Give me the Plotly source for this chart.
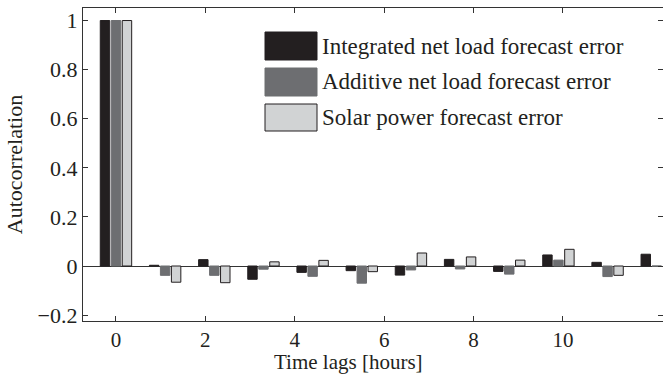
import plotly.graph_objects as go

# ---- data ----
lag_hours = [0.0, 1.1, 2.2, 3.3, 4.4, 5.5, 6.6, 7.7, 8.8, 9.9, 11.0, 12.1]
series_names = [
    "Integrated net load forecast error",
    "Additive net load forecast error",
    "Solar power forecast error",
]
integrated = [1.0, 0.003, 0.026, -0.054, -0.026, -0.019, -0.037, 0.027, -0.022, 0.045, 0.015, 0.048]
additive = [1.0, -0.038, -0.038, -0.013, -0.042, -0.070, -0.016, -0.012, -0.033, 0.024, -0.043, 0.0]
solar = [1.0, -0.066, -0.068, 0.017, 0.023, -0.023, 0.053, 0.037, 0.024, 0.068, -0.038, 0.0]
x_ticks = [0, 2, 4, 6, 8, 10]
y_ticks = [-0.2, 0, 0.2, 0.4, 0.6, 0.8, 1]
y_tick_text = ["\u22120.2", "0", "0.2", "0.4", "0.6", "0.8", "1"]
x_title = "Time lags [hours]"
y_title = "Autocorrelation"

fills = ["#231f20", "#6d6e71", "#d1d3d4"]
edges = ["#231f20", "#6d6e71", "#231f20"]
FONT = "Liberation Serif"
TXT = "#231f20"

fig = go.Figure()
for name, vals, fc, ec in zip(series_names, [integrated, additive, solar], fills, edges):
    fig.add_trace(go.Bar(
        x=lag_hours, y=vals, name=name,
        marker=dict(color=fc, line=dict(color=ec, width=1)),
        showlegend=False,
    ))

W, H = 663, 376
L, T, B, R = 83, 8, 55, 0
pw, ph = W - L - R, H - T - B

def px2paper(x, y):
    return (x - L) / pw, (H - B - y) / ph

# custom legend with large swatches
sw_x0, sw_x1 = 265, 317
rows = [(32, 60), (68, 96), (104, 131)]
for (y0, y1), fc, ec, name in zip(rows, fills, edges, series_names):
    ax0, ay1 = px2paper(sw_x0, y0)
    ax1, ay0 = px2paper(sw_x1, y1)
    fig.add_shape(type="rect", xref="paper", yref="paper",
                  x0=ax0, x1=ax1, y0=ay0, y1=ay1,
                  fillcolor=fc, line=dict(color=ec, width=1))
    tx, ty = px2paper(320, (y0 + y1) / 2)
    fig.add_annotation(xref="paper", yref="paper", x=tx, y=ty,
                       text=name, showarrow=False, xanchor="left", yanchor="middle",
                       font=dict(family=FONT, size=23, color=TXT))

# x-axis title placed as in the reference (not centred on the cropped axes)
tx, ty = px2paper(348, 362)
fig.add_annotation(xref="paper", yref="paper", x=tx, y=ty, text=x_title,
                   showarrow=False, xanchor="center", yanchor="middle",
                   font=dict(family=FONT, size=21, color=TXT))

fig.update_layout(
    width=W, height=H,
    margin=dict(l=L, r=R, t=T, b=B),
    paper_bgcolor="white", plot_bgcolor="white",
    barmode="group", bargap=0.33, bargroupgap=0.14,
    font=dict(family=FONT, size=21, color=TXT),
    showlegend=False,
)
fig.update_xaxes(
    range=[-0.738, 12.24], tickmode="array", tickvals=x_ticks,
    ticks="inside", ticklen=5, tickcolor="#333", mirror="ticks",
    showline=True, linecolor="#333", linewidth=1.2, showgrid=False, zeroline=False,
    tickfont=dict(family=FONT, size=21),
)
fig.update_yaxes(
    range=[-0.224, 1.051], tickmode="array", tickvals=y_ticks, ticktext=y_tick_text,
    ticks="inside", ticklen=5, tickcolor="#333", mirror="ticks",
    showline=True, linecolor="#333", linewidth=1.2, showgrid=False,
    zeroline=True, zerolinecolor="#333", zerolinewidth=1,
    title=dict(text=y_title, standoff=8, font=dict(family=FONT, size=22)),
    tickfont=dict(family=FONT, size=22),
)

fig.write_html("out.html")
